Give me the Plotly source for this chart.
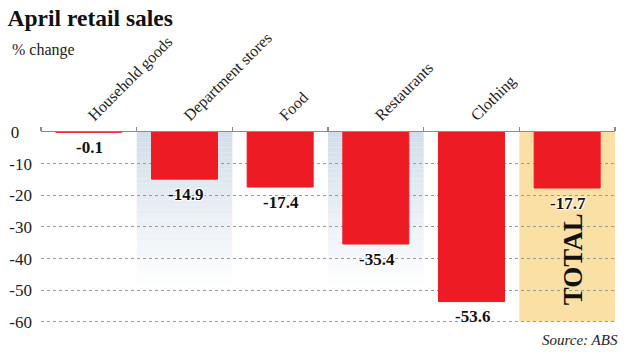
import plotly.graph_objects as go

categories = ["Household goods", "Department stores", "Food", "Restaurants", "Clothing", "TOTAL"]
values = [-0.1, -14.9, -17.4, -35.4, -53.6, -17.7]
tick_labels = ["Household goods", "Department stores", "Food", "Restaurants", "Clothing", ""]
y_ticks = [0, -10, -20, -30, -40, -50, -60]
y_tick_labels = ["0\u00a0\u00a0\u00a0", "-10", "-20", "-30", "-40", "-50", "-60"]
shaded_bands = ["Department stores", "Restaurants"]
total_band = "TOTAL"
value_labels = [f"{v}" for v in values]

RED = "#ED1C24"
SERIF = "Liberation Serif"

fig = go.Figure()
fig.add_trace(go.Bar(
    x=categories, y=values, width=0.69,
    marker=dict(color=RED, line=dict(color=RED, width=1)),
    cliponaxis=False, hoverinfo="skip",
))

shapes = []
# gradient bands (light blue fading to white)
top_rgb = (210, 222, 234)
n_strips = 30
band_bottom = -49
for name in shaded_bands:
    i = categories.index(name)
    for k in range(n_strips):
        t = k / n_strips
        y0 = band_bottom * t
        y1 = band_bottom * (k + 1) / n_strips
        c = tuple(int(round(top_rgb[j] + (255 - top_rgb[j]) * t)) for j in range(3))
        shapes.append(dict(type="rect", xref="x", yref="y", x0=i - 0.5, x1=i + 0.5,
                           y0=y0, y1=y1, fillcolor=f"rgb{c}", line=dict(width=0), layer="below"))
it = categories.index(total_band)
shapes.append(dict(type="rect", xref="x", yref="y", x0=it - 0.5, x1=it + 0.5,
                   y0=0, y1=min(y_ticks), fillcolor="#FAE0A5", line=dict(width=0), layer="below"))

annotations = [
    dict(text="% change", xref="paper", yref="paper", x=-0.054, y=1.425,
         xanchor="left", yanchor="middle", showarrow=False,
         font=dict(family=SERIF, size=16, color="#222")),
    dict(text="Source: ABS", xref="paper", yref="paper", x=1.0087, y=-0.078,
         xanchor="right", yanchor="middle", showarrow=False,
         font=dict(family=SERIF, size=15, color="#222", style="italic")),
    dict(text="<b>TOTAL</b>", xref="x", yref="y", x=total_band, y=-40.2, xshift=6,
         textangle=-90, showarrow=False,
         font=dict(family=SERIF, size=27, color="#111")),
]
for cat, v, lab in zip(categories, values, value_labels):
    annotations.append(dict(
        text=f"<b>{lab}</b>", xref="x", yref="y", x=cat, y=v, yshift=-15, xshift=1,
        xanchor="center", yanchor="middle", showarrow=False,
        font=dict(family=SERIF, size=17, color="#111",
                  shadow="1px 1px 1px white, -1px -1px 1px white, 1px -1px 1px white, -1px 1px 1px white"),
    ))

fig.update_layout(
    width=632, height=356,
    margin=dict(l=41, r=17, t=132, b=31, autoexpand=False),
    paper_bgcolor="white", plot_bgcolor="rgba(0,0,0,0)",
    showlegend=False,
    title=dict(text="<b>April retail sales</b>", x=0.012, xanchor="left",
               xref="container", yref="container", y=0.949, yanchor="middle",
               font=dict(family=SERIF, size=23.5, color="#111")),
    shapes=shapes, annotations=annotations,
)
fig.update_xaxes(
    type="category", side="top", tickangle=-45,
    tickmode="array", tickvals=categories, ticktext=tick_labels,
    tickson="boundaries", ticks="outside", ticklen=4, tickwidth=1.5, tickcolor="#8a8a8a",
    showline=True, linecolor="#8a8a8a", linewidth=1.5, showgrid=False,
    tickfont=dict(family=SERIF, size=16, color="#222"),
    range=[-0.5, len(categories) - 0.5], fixedrange=True, automargin=False,
)
fig.update_yaxes(
    range=[-61, 0], tickmode="array", tickvals=y_ticks, ticktext=y_tick_labels,
    showgrid=True, gridcolor="#9a9a9a", griddash="dot", gridwidth=1,
    zeroline=False, showline=False, ticks="", ticklabelstandoff=8,
    tickfont=dict(family=SERIF, size=17, color="#222"), fixedrange=True, automargin=False,
)

fig.write_html("out.html", config={"displayModeBar": False, "staticPlot": True},
               post_script="document.body.style.margin='0';document.body.style.overflow='hidden';")
